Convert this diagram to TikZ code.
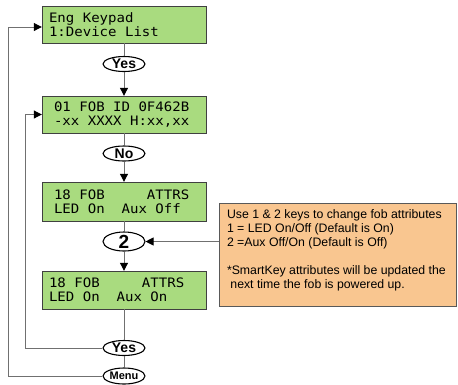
\documentclass[tikz,border=0pt]{standalone}
\usepackage{fontspec}
\setmainfont{Liberation Sans}
\newfontfamily\lcdfont{DejaVu Sans Mono}[FakeStretch=1.08]
\usetikzlibrary{positioning,arrows.meta,shapes.geometric,calc}
\definecolor{lcdgreen}{HTML}{A9DB7F}
\definecolor{notebg}{HTML}{F9C690}
\definecolor{wiregray}{HTML}{707070}
\newcommand\lcdsp{\phantom{0}}

\begin{document}
\begin{tikzpicture}[x=1pt,y=-1pt,
    lcd/.style={draw=black!75,fill=lcdgreen,text width=150pt,minimum height=37pt,inner xsep=7pt,inner ysep=0pt,align=left,font=\lcdfont\fontsize{13}{14}\selectfont},
    oval/.style={ellipse,draw,line width=1.1pt,fill=white,minimum width=42pt,minimum height=15pt,inner sep=0pt,font=\bfseries\fontsize{14}{14}\selectfont},
    note/.style={draw=black!65,fill=notebg,minimum width=237pt,minimum height=103pt},
    notetext/.style={anchor=north west,inner sep=0pt,align=left,font=\fontsize{12.3}{14}\selectfont},
    wire/.style={draw=wiregray,line width=1pt},
    >={Triangle[length=8pt,width=8pt,color=black]}]
    \useasboundingbox (0,0) rectangle (458,384);
    \node[lcd] (kpd) at (124,24.5) {Eng\lcdsp Keypad\\1:Device\lcdsp List};
    \node[oval] (yes1) at (124,64) {Yes};
    \node[lcd] (fobid) at (124,114.5) {\hspace{5pt}01\lcdsp FOB\lcdsp ID\lcdsp 0F462B\\\hspace{5pt}-xx\lcdsp XXXX\lcdsp H:xx,xx};
    \node[oval] (no) at (124,153.5) {No};
    \node[lcd,minimum height=39pt] (attr1) at (124,201.5) {\hspace{5pt}18\lcdsp FOB\lcdsp\lcdsp\lcdsp\lcdsp\lcdsp ATTRS\\\hspace{5pt}LED\lcdsp On\lcdsp\lcdsp Aux\lcdsp Off};
    \node[oval,minimum height=19pt,font=\bfseries\fontsize{19}{19}\selectfont] (two) at (124,241.5) {2};
    \node[lcd,minimum height=38pt] (attr2) at (124,290) {18\lcdsp FOB\lcdsp\lcdsp\lcdsp\lcdsp\lcdsp ATTRS\\LED\lcdsp On\lcdsp\lcdsp Aux\lcdsp On};
    \node[oval] (yes2) at (124,348) {Yes};
    \node[oval,minimum height=16pt,font=\bfseries\fontsize{11}{11}\selectfont] (menu) at (124,376) {Menu};
    \node[note] (hint) at (337.5,254.5) {};
    \node[notetext] (hinttext) at ($(hint.north west)+(8,7)$) {Use 1 \& 2 keys to change fob attributes\\1 = LED On/Off (Default is On)\\2 =Aux Off/On (Default is Off)\\[14pt]*SmartKey attributes will be updated the\\~next time the fob is powered up.};
    \coordinate (outer) at (8,27);
    \coordinate (inner) at (25,114.5);
    \draw[wire] (kpd) -- (yes1);
    \draw[wire,->] (yes1) -- (fobid);
    \draw[wire] (fobid) -- (no);
    \draw[wire,->] (no) -- (attr1);
    \draw[wire] (attr1) -- (two);
    \draw[wire,->] (two) -- (attr2);
    \draw[wire] (attr2) -- (yes2);
    \draw[wire] (yes2) -- (menu);
    \draw[wire,->] (two.east -| hint.west) -- (two.east);
    \draw[wire,->] (yes2.west) -| (inner) -- (inner -| fobid.west);
    \draw[wire,->] (menu.west) -| (outer) -- (outer -| kpd.west);
  \end{tikzpicture}
\end{document}
